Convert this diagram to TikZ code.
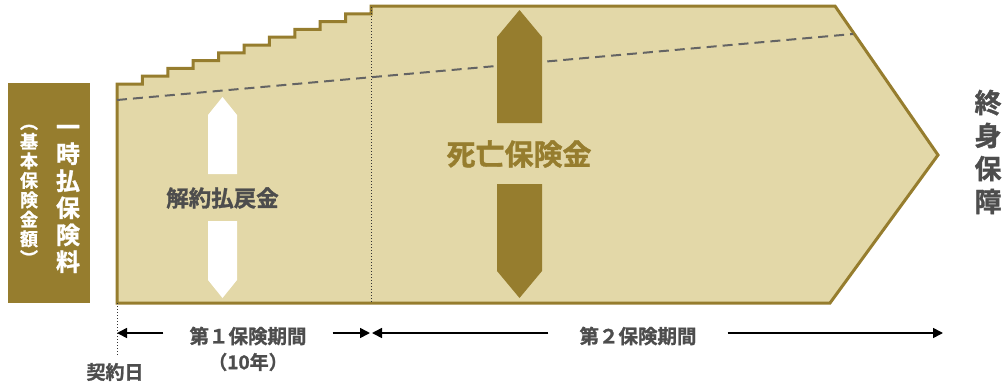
\documentclass[tikz,border=0pt]{standalone}
\usepackage{fontspec}
\newfontfamily\jp{Noto Sans CJK JP}[BoldFont={Noto Sans CJK JP Bold}, BoldFeatures={FakeBold=1.2}]
\usetikzlibrary{arrows.meta}
\definecolor{goldc}{RGB}{150,125,46}
\definecolor{sandc}{RGB}{227,216,168}
\definecolor{textc}{RGB}{77,77,77}
\definecolor{dashc}{RGB}{100,100,100}

\begin{document}
\begin{tikzpicture}[
    x=1pt, y=-1pt,
    font=\jp\bfseries,
    outline/.style={draw=goldc, fill=sandc, line width=3pt, line join=miter},
    dashline/.style={draw=dashc, line width=2pt, dash pattern=on 10pt off 6pt},
    dotline/.style={draw=black!80, line width=1pt, dash pattern=on 1pt off 2pt},
    txt/.style={text=textc, inner sep=0pt},
    period/.style={draw=black, line width=1.6pt, -{Triangle[length=10pt,width=10pt]}}
]
\useasboundingbox (0,0) rectangle (1005,383);

% Premium box
\node[fill=goldc, minimum width=82pt, minimum height=220pt, inner sep=0pt] (premium) at (49,193) {};
\node[text=white, inner sep=0pt, align=center, font=\jp\bfseries\fontsize{24}{27}\selectfont] (single) at (68,199) {一\\時\\払\\保\\険\\料};
\node[text=white, inner sep=0pt, align=center, font=\jp\bfseries\fontsize{18}{19.5}\selectfont] (basic) at (29,195) {︵\\基\\本\\保\\険\\金\\額\\︶};

% Coverage shape
\draw[outline] (117,303) -- (117,84)
    -| (142.4,76.2) -| (167.8,68.4) -| (193.2,60.6) -| (218.6,52.8) -| (244,45)
    -| (269.4,37.2) -| (294.8,29.4) -| (320.2,21.6) -| (345.6,13.8) -| (371,6)
    -- (835,6) -- (938,155) -- (830,303) -- cycle;

% Reserve line
\draw[dashline] (117,100) -- (853,34);
\draw[dotline] (371,7) -- (371,303);
\draw[dotline] (117,303) -- (117,355);

% Surrender value
\fill[white] (208,174) -- (208,115) -- (222.5,97) -- (237,115) -- (237,174) -- cycle;
\fill[white] (208,221) -- (208,280) -- (222.5,298) -- (237,280) -- (237,221) -- cycle;
\node[txt, font=\jp\bfseries\fontsize{22.5}{22.5}\selectfont] (surrender) at (222.5,198) {解約払戻金};

% Death benefit
\fill[goldc] (497,123) -- (497,37) -- (519.5,10) -- (542,37) -- (542,123) -- cycle;
\fill[goldc] (497,184) -- (497,271) -- (519.5,298) -- (542,271) -- (542,184) -- cycle;
\node[inner sep=0pt, text=goldc, font=\jp\bfseries\fontsize{29}{29}\selectfont] (death) at (519,154) {死亡保険金};

% Whole life
\node[txt, align=center, font=\jp\bfseries\fontsize{27}{33}\selectfont] (whole) at (988,152) {終\\身\\保\\障};

% Periods
\coordinate (contract) at (117,333);
\coordinate (renew1) at (370,333);
\coordinate (renew2) at (372,333);
\coordinate (finish) at (943,333);
\node[txt, inner xsep=26pt, font=\jp\bfseries\fontsize{19.5}{19.5}\selectfont] (first) at (248,336) {第１保険期間};
\node[txt, font=\jp\bfseries\fontsize{19}{19}\selectfont] (decade) at (248,362) {（10年）};
\node[txt, inner xsep=31pt, font=\jp\bfseries\fontsize{19.5}{19.5}\selectfont] (second) at (638,336) {第２保険期間};
\node[txt, font=\jp\bfseries\fontsize{19}{19}\selectfont] (signday) at (115,372) {契約日};

\draw[period] (first.west |- contract) -- (contract);
\draw[period] (first.east |- renew1) -- (renew1);
\draw[period] (second.west |- renew2) -- (renew2);
\draw[period] (second.east |- finish) -- (finish);

\end{tikzpicture}
\end{document}
